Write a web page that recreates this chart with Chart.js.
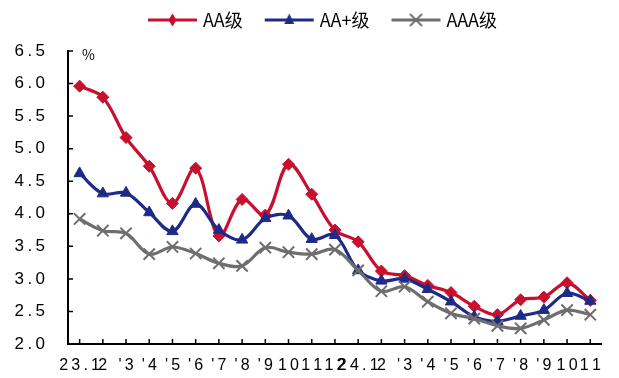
<!DOCTYPE html>
<html>
<head>
<meta charset="utf-8">
<script src="https://cdn.jsdelivr.net/npm/chart.js@4/dist/chart.umd.min.js"></script>
<style>
  html, body { margin: 0; padding: 0; background: #fff; }
  #wrap { width: 619px; height: 378px; }
</style>
</head>
<body>
<div id="wrap"><canvas id="chart"></canvas></div>
<script>
const months = ["23.1","2","'3","'4","'5","'6","'7","'8","'9","10","11","12",
                "24.1","2","'3","'4","'5","'6","'7","'8","'9","10","11"]
const aa    = [5.96,5.79,5.17,4.73,4.16,4.70,3.66,4.22,3.98,4.76,4.30,3.75,
               3.57,3.12,3.05,2.90,2.79,2.58,2.45,2.68,2.72,2.94,2.67]
const aaPlus= [4.62,4.31,4.32,4.02,3.73,4.15,3.75,3.60,3.93,3.97,3.61,3.67,
               3.13,2.97,3.00,2.84,2.65,2.42,2.35,2.43,2.52,2.78,2.66]
const aaa   = [3.92,3.74,3.70,3.38,3.49,3.39,3.24,3.20,3.48,3.41,3.38,3.45,
               3.13,2.81,2.88,2.65,2.47,2.39,2.28,2.24,2.37,2.52,2.45]
const names = ['AA级','AA+级','AAA级']
const colors = ['#c8102e','#1f2a88','#6e6e6e']
const styles = ['rectRot','triangle','crossRot']
const radii = [6, 6.5, 8]

const font = "'Liberation Sans', 'DejaVu Sans', sans-serif"
const cjk = "'Noto Sans CJK SC', 'Liberation Sans', sans-serif"
const spaced = s => String(s).split('').join('\u2009')

// line + marker picture for the legend
function legendIcon(i) {
  const c = document.createElement('canvas')
  c.width = 64; c.height = 18
  const g = c.getContext('2d')
  const cx = 38.5, cy = 9
  g.strokeStyle = colors[i]; g.fillStyle = colors[i]; g.lineWidth = 3
  g.beginPath(); g.moveTo(14, cy); g.lineTo(63, cy); g.stroke()
  g.beginPath()
  if (i === 0) {
    g.moveTo(cx, cy - 6.5); g.lineTo(cx + 4, cy); g.lineTo(cx, cy + 6.5); g.lineTo(cx - 4, cy); g.closePath(); g.fill()
  } else if (i === 1) {
    g.moveTo(cx, cy - 6.5); g.lineTo(cx + 5, cy + 4); g.lineTo(cx - 5, cy + 4); g.closePath(); g.fill()
  } else {
    g.lineWidth = 2
    g.moveTo(cx - 6, cy - 6); g.lineTo(cx + 6, cy + 6); g.moveTo(cx + 6, cy - 6); g.lineTo(cx - 6, cy + 6); g.stroke()
  }
  return c
}

// nudge legend: up into the top margin, a bit right
const legendShift = {
  id: 'legendShift',
  afterLayout(chart) {
    const l = chart.legend
    l.top -= 12; l.bottom -= 12
    l.left += 5; l.right += 5
  }
}

// inward tick marks + the % unit
const extras = {
  id: 'extras',
  beforeDatasetsDraw(chart) {
    const ctx = chart.ctx, a = chart.chartArea
    const xs = chart.scales.x, ys = chart.scales.y
    ctx.save()
    ctx.strokeStyle = '#000'; ctx.lineWidth = 1.5
    ctx.beginPath()
    xs.ticks.forEach((t, i) => { const p = xs.getPixelForTick(i); ctx.moveTo(p, a.bottom); ctx.lineTo(p, a.bottom - 5) })
    ys.ticks.forEach((t, i) => { const p = ys.getPixelForTick(i); ctx.moveTo(a.left, p); ctx.lineTo(a.left + 5, p) })
    ctx.stroke()
    ctx.fillStyle = '#000'
    ctx.font = '14px ' + cjk
    ctx.textBaseline = 'top'
    ctx.fillText('%', a.left + 14, a.top - 3)
    ctx.restore()
  }
}

const data = [aa, aaPlus, aaa]
new Chart(document.getElementById('chart'), {
  type: 'line',
  data: {
    labels: months,
    datasets: data.map((d, i) => ({
      label: names[i],
      data: d,
      borderColor: colors[i],
      backgroundColor: colors[i],
      borderWidth: 3.2,
      tension: 0.35,
      pointStyle: styles[i],
      pointRadius: radii[i],
      pointBorderWidth: styles[i] === 'crossRot' ? 2 : 1,
      order: 2 - i
    }))
  },
  options: {
    responsive: true,
    maintainAspectRatio: false,
    animation: false,
    layout: { padding: { left: 10, right: 4, top: 11, bottom: -10 } },
    plugins: {
      legend: {
        labels: {
          usePointStyle: true,
          pointStyleWidth: 56,
          padding: 12,
          color: '#000',
          font: { size: 18, family: cjk },
          generateLabels(chart) {
            const items = Chart.defaults.plugins.legend.labels.generateLabels(chart)
            items.sort((p, q) => p.datasetIndex - q.datasetIndex)
            items.forEach(it => { it.pointStyle = legendIcon(it.datasetIndex) })
            return items
          }
        }
      },
      tooltip: { enabled: false }
    },
    scales: {
      x: {
        offset: true,
        grid: { display: false, drawOnChartArea: false, tickLength: 0 },
        border: { color: '#000', width: 2 },
        ticks: { autoSkip: false, maxRotation: 0, minRotation: 0, color: '#000', padding: 18,
                 font: { size: 16, family: font, lineHeight: 0.5 },
                 callback: function (v) { return spaced(this.getLabelForValue(v)) } }
      },
      y: {
        min: 2.0, max: 6.5,
        afterFit(s) { s.width = 58 },
        grid: { display: false, drawOnChartArea: false, tickLength: 0 },
        border: { color: '#000', width: 2 },
        ticks: { stepSize: 0.5, color: '#000', padding: 23,
                 font: { size: 17, family: font },
                 callback: v => spaced(v.toFixed(1)) }
      }
    }
  },
  plugins: [legendShift, extras]
})
</script>
</body>
</html>
